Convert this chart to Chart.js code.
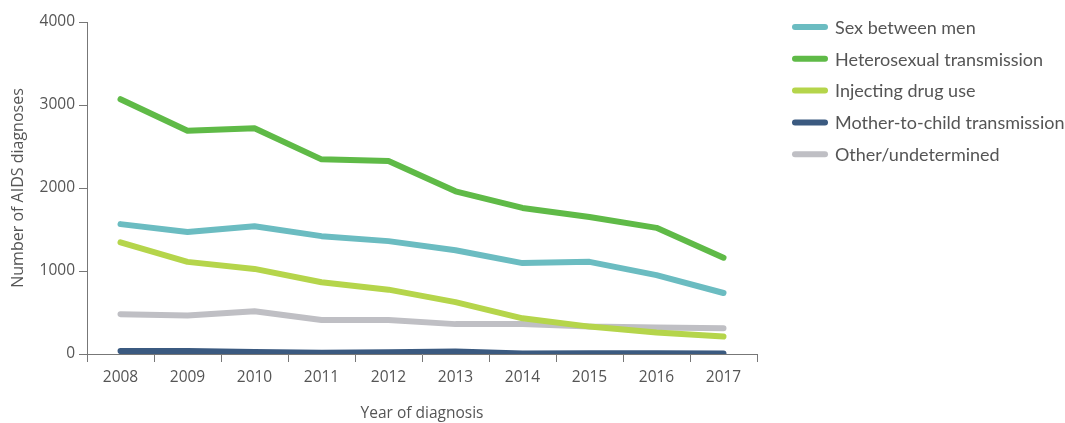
<!DOCTYPE html>
<html>
<head>
<meta charset="utf-8">
<script src="https://cdn.jsdelivr.net/npm/chart.js@4"></script>
<style>
    html, body { margin: 0; padding: 0; background: #ffffff; }
    #wrap { width: 1065px; height: 423px; }
</style>
</head>
<body>
<div id="wrap"><canvas id="aidsChart"></canvas></div>
<script>
const years = ["2008", "2009", "2010", "2011", "2012", "2013", "2014", "2015", "2016", "2017"];

const sexBetweenMen = [1565, 1470, 1540, 1420, 1360, 1250, 1095, 1110, 950, 735];
const heterosexual = [3070, 2690, 2720, 2345, 2325, 1960, 1760, 1650, 1520, 1160];
const injectingDrugUse = [1345, 1110, 1025, 865, 775, 625, 430, 330, 260, 210];
const motherToChild = [35, 35, 25, 15, 20, 30, 5, 10, 10, 5];
const otherUndetermined = [480, 465, 515, 410, 410, 360, 360, 330, 320, 310];

const seriesLabels = [
    "Sex between men",
    "Heterosexual transmission",
    "Injecting drug use",
    "Mother-to-child transmission",
    "Other/undetermined",
];

const yTicks = [0, 1000, 2000, 3000, 4000];

const COLORS = {
    teal: "#6bbcc1",
    green: "#5fba47",
    lime: "#b5d54b",
    navy: "#3b5a80",
    grey: "#bfbfc4",
    axis: "#777777",
    text: "#555555",
};

const AXIS_FONT = "'Open Sans', sans-serif";
const LEGEND_FONT = "Lato, sans-serif";

function lineSet(label, data, color) {
    return {
        label,
        data,
        borderColor: color,
        backgroundColor: color,
        borderWidth: 6,
        borderCapStyle: "round",
        borderJoinStyle: "round",
        pointRadius: 0,
        tension: 0,
    };
}

// legend on the right: short rounded line sample + label
const sideLegend = {
    id: "sideLegend",
    afterDraw(chart) {
        const ctx = chart.ctx;
        const x0 = 795;
        const y0 = 27;
        const step = 31.8;

        ctx.save();
        ctx.font = "18px " + LEGEND_FONT;
        ctx.textBaseline = "middle";
        ctx.lineCap = "round";
        ctx.lineWidth = 6;

        chart.data.datasets.forEach((ds, i) => {
            const y = y0 + i * step;
            ctx.strokeStyle = ds.borderColor;
            ctx.beginPath();
            ctx.moveTo(x0, y);
            ctx.lineTo(x0 + 30, y);
            ctx.stroke();

            ctx.fillStyle = COLORS.text;
            ctx.fillText(ds.label, x0 + 40, y + 1);
        });

        ctx.restore();
    },
};

new Chart(document.getElementById("aidsChart"), {
    type: "line",

    data: {
        labels: years,

        datasets: [
            lineSet(seriesLabels[0], sexBetweenMen, COLORS.teal),
            lineSet(seriesLabels[1], heterosexual, COLORS.green),
            lineSet(seriesLabels[2], injectingDrugUse, COLORS.lime),
            lineSet(seriesLabels[3], motherToChild, COLORS.navy),
            lineSet(seriesLabels[4], otherUndetermined, COLORS.grey),
        ],
    },

    options: {
        responsive: true,
        maintainAspectRatio: false,
        animation: false,

        layout: {
            padding: { top: 22, right: 308, left: 9, bottom: 0 },
        },

        plugins: {
            legend: { display: false },
            tooltip: { enabled: false },
        },

        scales: {
            x: {
                offset: true,

                grid: {
                    offset: true,
                    drawOnChartArea: false,
                    color: COLORS.axis,
                    tickLength: 8,
                },

                border: { color: COLORS.axis, width: 1 },

                ticks: {
                    color: COLORS.text,
                    font: { family: AXIS_FONT, size: 15.5 },
                    padding: 6,
                    maxRotation: 0,
                },

                title: {
                    display: true,
                    text: "Year of diagnosis",
                    color: COLORS.text,
                    font: { family: AXIS_FONT, size: 15.5 },
                    padding: { top: 12, bottom: 0 },
                },

                afterFit(scale) {
                    scale.height = 69;
                },
            },

            y: {
                min: 0,
                max: 4000,

                afterBuildTicks(scale) {
                    scale.ticks = yTicks.map((v) => ({ value: v }));
                },

                grid: {
                    drawOnChartArea: false,
                    color: COLORS.axis,
                    tickLength: 8,
                },

                border: { color: COLORS.axis, width: 1 },

                ticks: {
                    color: COLORS.text,
                    font: { family: AXIS_FONT, size: 15.5 },
                    padding: 4,
                    callback: (v) => String(v),
                },

                title: {
                    display: true,
                    text: "Number of AIDS diagnoses",
                    color: COLORS.text,
                    font: { family: AXIS_FONT, size: 16 },
                    padding: { top: 0, bottom: 4 },
                },

                afterFit(scale) {
                    scale.width = 78;
                },
            },
        },
    },

    plugins: [sideLegend],
});
</script>
</body>
</html>
